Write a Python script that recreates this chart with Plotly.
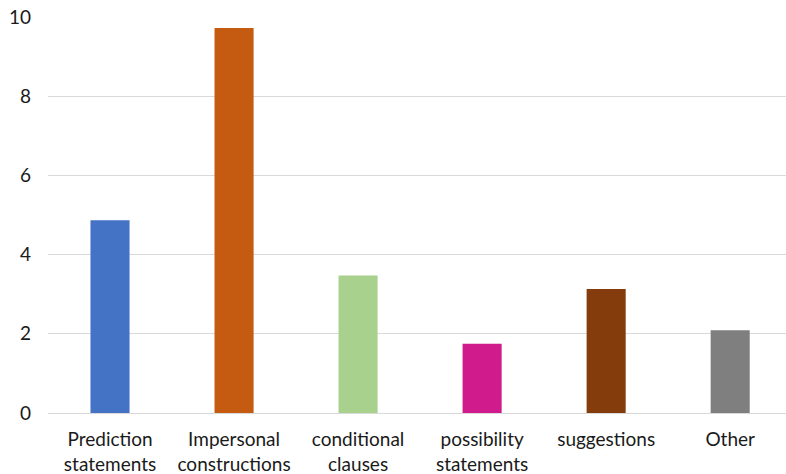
import plotly.graph_objects as go

categories = [
    "Prediction<br>statements",
    "Impersonal<br>constructions",
    "conditional<br>clauses",
    "possibility<br>statements",
    "suggestions",
    "Other",
]
values = [4.87, 9.72, 3.47, 1.75, 3.13, 2.09]
colors = ["#4472C4", "#C55A11", "#A9D18E", "#D01B8C", "#843C0C", "#7F7F7F"]
y_ticks = [0, 2, 4, 6, 8, 10]

fig = go.Figure(
    go.Bar(
        x=list(range(len(categories))),
        y=values,
        marker=dict(color=colors, line=dict(width=0)),
        width=0.315,
    )
)

font_family = "Lato"
fig.update_layout(
    width=786,
    height=474,
    margin=dict(l=48, r=0, t=17, b=61),
    paper_bgcolor="white",
    plot_bgcolor="white",
    showlegend=False,
    font=dict(family=font_family, size=19, color="#1a1a1a"),
    xaxis=dict(
        tickmode="array",
        tickvals=list(range(len(categories))),
        ticktext=categories,
        range=[-0.5, 5.45],
        showgrid=False,
        showline=False,
        zeroline=False,
        ticks="",
        ticklabelstandoff=13,
        tickfont=dict(size=19),
    ),
    yaxis=dict(
        range=[0, 10],
        tickvals=y_ticks,
        showgrid=True,
        gridcolor="#D9D9D9",
        gridwidth=1.3,
        zeroline=True,
        zerolinecolor="#D9D9D9",
        zerolinewidth=1.3,
        showline=False,
        ticks="",
        ticklabelstandoff=16,
        tickfont=dict(size=19),
    ),
)

fig.write_html("out.html")
